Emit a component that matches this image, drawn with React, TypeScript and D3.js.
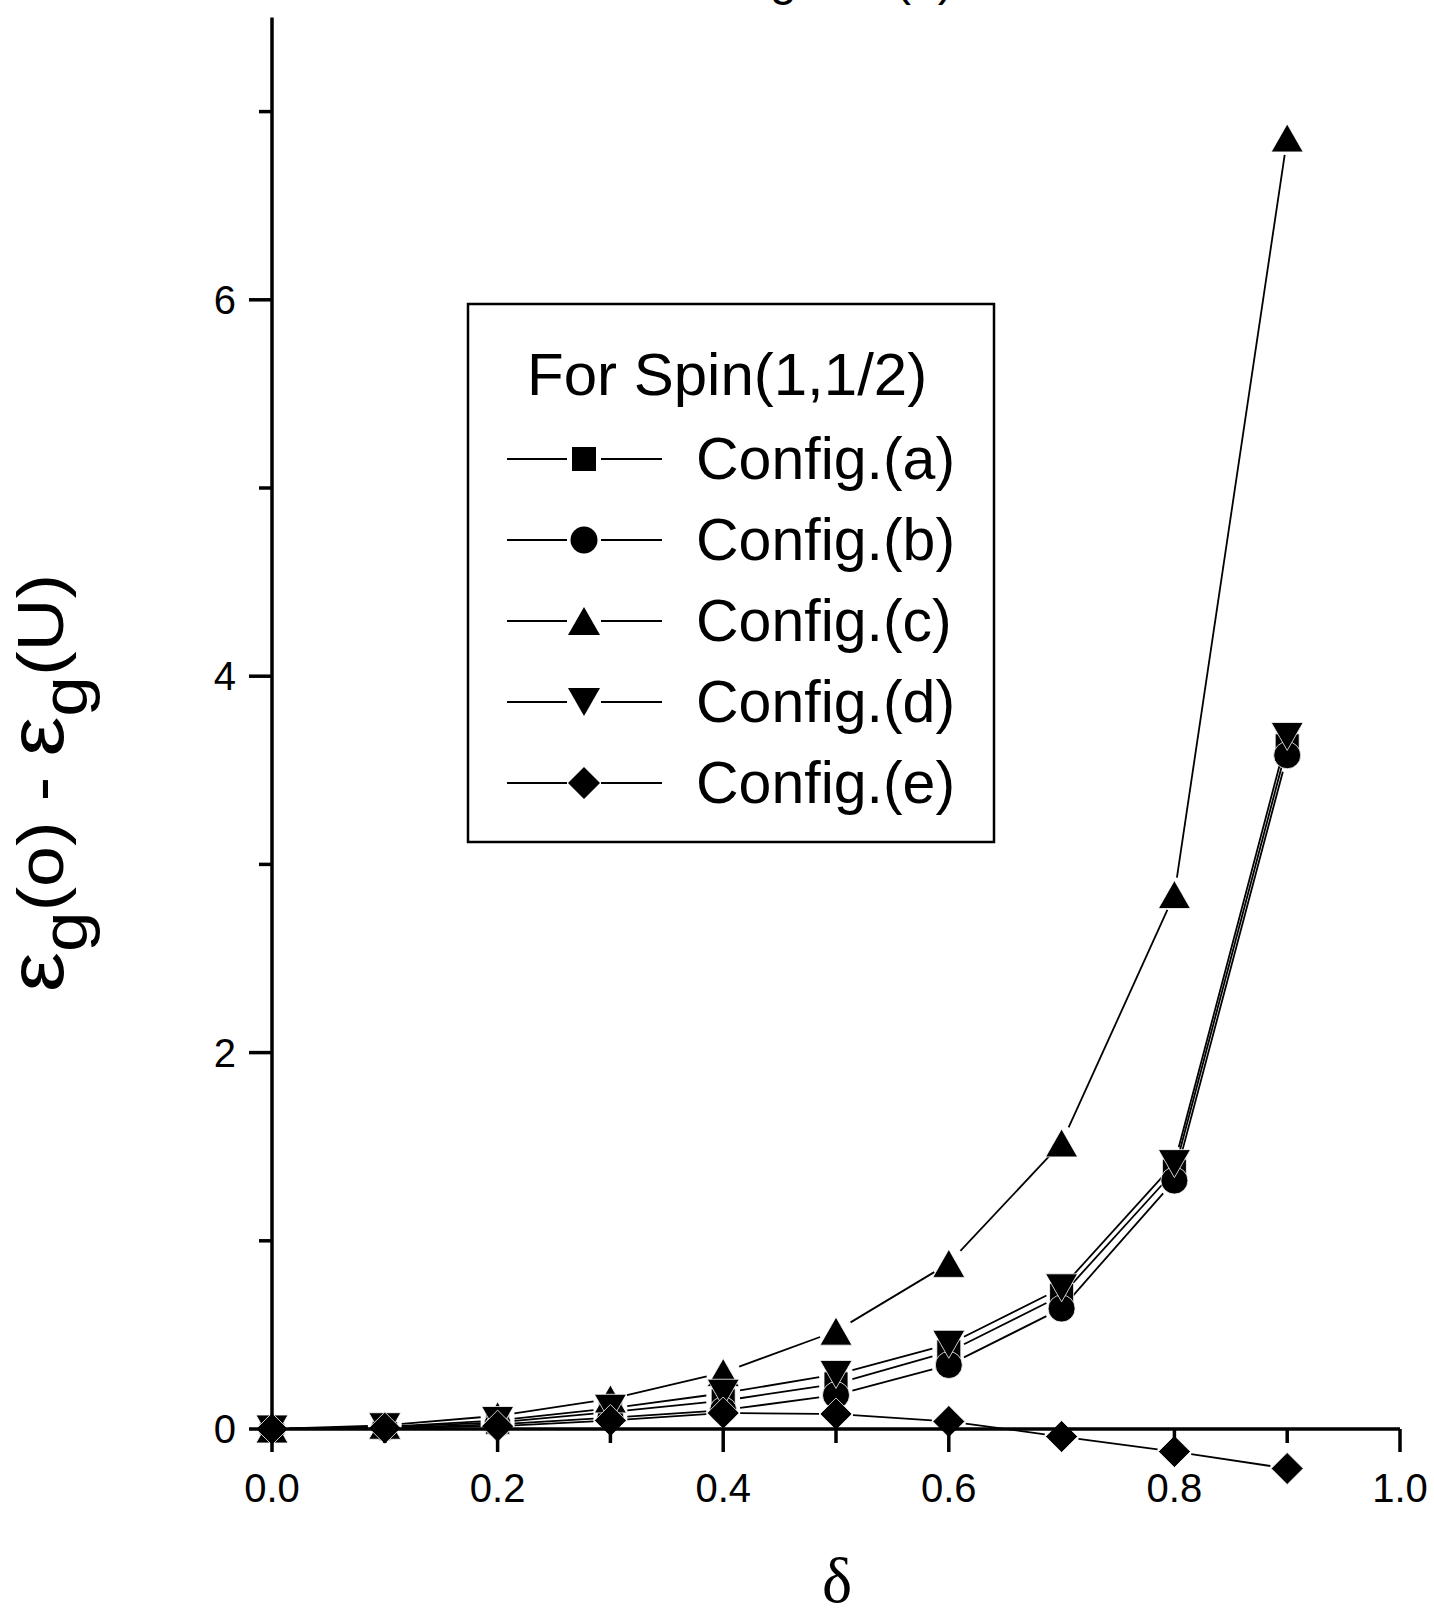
import React from "react";
import * as d3 from "d3";

const deltas = [0, 0.1, 0.2, 0.3, 0.4, 0.5, 0.6, 0.7, 0.8, 0.9];
const configA = [0, 0.01, 0.035, 0.09, 0.15, 0.24, 0.41, 0.71, 1.37, 3.63];
const configB = [0, 0.006, 0.025, 0.06, 0.1, 0.18, 0.34, 0.64, 1.32, 3.58];
const configC = [0, 0.02, 0.07, 0.16, 0.3, 0.52, 0.88, 1.52, 2.84, 6.86];
const configD = [0, 0.012, 0.045, 0.11, 0.19, 0.29, 0.45, 0.75, 1.41, 3.68];
const configE = [0, 0.005, 0.015, 0.045, 0.085, 0.08, 0.04, -0.04, -0.12, -0.21];

const seriesNames = ["Config.(a)", "Config.(b)", "Config.(c)", "Config.(d)", "Config.(e)"];
const seriesShapes = ["square", "circle", "triangleUp", "triangleDown", "diamond"];
const seriesValues = [configA, configB, configC, configD, configE];

const xTicksMajor = [0, 0.2, 0.4, 0.6, 0.8, 1.0];
const xTicksMinor = [0.1, 0.3, 0.5, 0.7, 0.9];
const yTicksMajor = [0, 2, 4, 6];
const yTicksMinor = [1, 3, 5, 7];

const legendTitle = "For Spin(1,1/2)";

const W = 1434;
const H = 1611;
const FONT = "'Liberation Sans', Arial, Helvetica, sans-serif";

const x = d3.scaleLinear().domain([0, 1]).range([272, 1400]);
const y = d3.scaleLinear().domain([0, 7.5]).range([1429, 1429 - 7.5 * 188.2]);

function markerPath(shape: string): string {
  switch (shape) {
    case "square":
      return "M-12,-12H12V12H-12Z";
    case "circle":
      return "M13.5,0A13.5,13.5 0 1,1 -13.5,0A13.5,13.5 0 1,1 13.5,0Z";
    case "triangleUp":
      return "M0,-14L16,14L-16,14Z";
    case "triangleDown":
      return "M0,14L16,-14L-16,-14Z";
    case "diamond":
      return "M0,-16L16,0L0,16L-16,0Z";
  }
  return "";
}

const GAP = 17;

function segments(vals: number[]) {
  const pts = deltas.map((d, i) => [x(d), y(vals[i])]);
  const segs: string[] = [];
  for (let i = 0; i < pts.length - 1; i++) {
    const [x1, y1] = pts[i];
    const [x2, y2] = pts[i + 1];
    const dx = x2 - x1;
    const dy = y2 - y1;
    const len = Math.hypot(dx, dy);
    if (len <= 2 * GAP) continue;
    const ux = dx / len;
    const uy = dy / len;
    const p = d3.path();
    p.moveTo(x1 + ux * GAP, y1 + uy * GAP);
    p.lineTo(x2 - ux * GAP, y2 - uy * GAP);
    segs.push(p.toString());
  }
  return segs;
}

export default function App() {
  const legendX0 = 468;
  const legendY0 = 304;
  const legendX1 = 994;
  const legendY1 = 842;
  const entryY0 = 459;
  const entryStep = 81;

  return (
    <svg
      width={W}
      height={H}
      viewBox={`0 0 ${W} ${H}`}
      style={{ position: "absolute", left: 0, top: 0, background: "#fff" }}
    >
      <rect x={0} y={0} width={W} height={H} fill="#fff" />

      {/* cut-off title at the very top */}
      <text fontFamily={FONT} fontSize={48} y={-5} fill="#000">
        <tspan x={730}>Fig.</tspan>
        <tspan x={895}>(a)</tspan>
      </text>

      {/* series lines */}
      {seriesValues.map((vals, si) =>
        segments(vals).map((d, k) => (
          <path key={`l${si}-${k}`} d={d} stroke="#000" strokeWidth={1.8} fill="none" />
        ))
      )}

      {/* markers */}
      {seriesValues.map((vals, si) =>
        deltas.map((d, i) => (
          <path
            key={`m${si}-${i}`}
            d={markerPath(seriesShapes[si])}
            transform={`translate(${x(d)},${y(vals[i])})`}
            fill="#000"
            stroke="#fff"
            strokeWidth={0.8}
          />
        ))
      )}

      {/* axes */}
      <line x1={x(0)} x2={x(0)} y1={y(0) + 1.5} y2={y(7.5)} stroke="#000" strokeWidth={3.5} />
      <line x1={x(0) - 1.5} x2={x(1)} y1={y(0)} y2={y(0)} stroke="#000" strokeWidth={3.5} />

      {yTicksMajor.map((t) => (
        <g key={`ym${t}`}>
          <line x1={x(0) - 23} x2={x(0)} y1={y(t)} y2={y(t)} stroke="#000" strokeWidth={3.5} />
          <text x={236} y={y(t) + 14} fontFamily={FONT} fontSize={40} textAnchor="end" fill="#000">
            {String(t)}
          </text>
        </g>
      ))}
      {yTicksMinor.map((t) => (
        <line key={`yn${t}`} x1={x(0) - 13} x2={x(0)} y1={y(t)} y2={y(t)} stroke="#000" strokeWidth={3.5} />
      ))}

      {xTicksMajor.map((t) => (
        <g key={`xm${t}`}>
          <line x1={x(t)} x2={x(t)} y1={y(0)} y2={y(0) + 23} stroke="#000" strokeWidth={3.5} />
          <text x={x(t)} y={1502} fontFamily={FONT} fontSize={40} textAnchor="middle" fill="#000">
            {t.toFixed(1)}
          </text>
        </g>
      ))}
      {xTicksMinor.map((t) => (
        <line key={`xn${t}`} x1={x(t)} x2={x(t)} y1={y(0)} y2={y(0) + 14} stroke="#000" strokeWidth={3.5} />
      ))}

      {/* axis titles */}
      <text
        x={837}
        y={1602}
        fontFamily="'Liberation Serif', 'Times New Roman', serif"
        fontSize={64}
        textAnchor="middle"
        fill="#000"
      >
        δ
      </text>

      <text
        transform="translate(63,783) rotate(-90)"
        fontFamily={FONT}
        fontSize={64}
        textAnchor="middle"
        textLength={418}
        lengthAdjust="spacingAndGlyphs"
        fill="#000"
      >
        <tspan fontSize={78}>ε</tspan>
        <tspan dy={24}>g</tspan>
        <tspan dy={-24}>(o) - </tspan>
        <tspan fontSize={78}>ε</tspan>
        <tspan dy={24}>g</tspan>
        <tspan dy={-24}>(U)</tspan>
      </text>

      {/* legend */}
      <rect
        x={legendX0}
        y={legendY0}
        width={legendX1 - legendX0}
        height={legendY1 - legendY0}
        fill="#fff"
        stroke="#000"
        strokeWidth={2.5}
      />
      <text x={527} y={395} fontFamily={FONT} fontSize={60} fill="#000">
        {legendTitle}
      </text>
      {seriesNames.map((name, i) => {
        const cy = entryY0 + i * entryStep;
        return (
          <g key={`lg${i}`}>
            <line x1={507} x2={567} y1={cy} y2={cy} stroke="#000" strokeWidth={1.8} />
            <line x1={601} x2={662} y1={cy} y2={cy} stroke="#000" strokeWidth={1.8} />
            <path d={markerPath(seriesShapes[i])} transform={`translate(584,${cy})`} fill="#000" />
            <text x={696} y={cy + 20} fontFamily={FONT} fontSize={59} fill="#000">
              {name}
            </text>
          </g>
        );
      })}
    </svg>
  );
}
